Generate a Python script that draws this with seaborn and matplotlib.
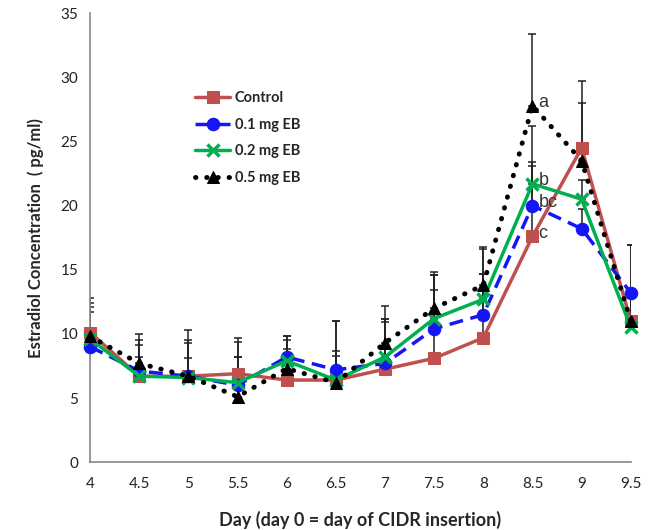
import matplotlib
matplotlib.use("Agg")
import matplotlib.pyplot as plt
import seaborn as sns
import pandas as pd

days = [4, 4.5, 5, 5.5, 6, 6.5, 7, 7.5, 8, 8.5, 9, 9.5]
control = [10.1, 6.7, 6.7, 6.9, 6.4, 6.4, 7.25, 8.1, 9.7, 17.6, 24.5, 11.0]
eb01 = [9.0, 7.1, 6.7, 6.0, 8.2, 7.2, 7.7, 10.4, 11.5, 20.0, 18.2, 13.2]
eb02 = [9.6, 6.7, 6.6, 6.2, 7.9, 6.4, 8.2, 11.2, 12.7, 21.7, 20.5, 10.5]
eb05 = [9.8, 7.7, 6.7, 5.1, 7.3, 6.2, 9.3, 12.0, 13.8, 27.8, 23.5, 11.0]

err_control = [2.3, 1.5, 1.4, 1.3, 2.4, 1.9, 3.65, 5.3, 5.0, 5.5, 5.2, 1.8]
err_eb01 = [2.7, 2.4, 2.6, 3.4, 1.6, 3.8, 3.5, 4.2, 5.1, 3.4, 1.5, 3.7]
err_eb02 = [2.5, 2.4, 2.9, 3.5, 1.6, 2.3, 3.0, 3.4, 2.0, 4.5, 1.5, 3.0]
err_eb05 = [3.0, 2.3, 3.6, 3.1, 2.5, 4.8, 2.9, 2.8, 3.0, 5.6, 4.5, 5.9]

series_names = ["Control", "0.1 mg EB", "0.2 mg EB", "0.5 mg EB"]
letters = ["c", "bc", "b", "a"]

sns.set_style("white")
plt.rcParams["font.family"] = ["Lato", "DejaVu Sans"]

fig, ax = plt.subplots(figsize=(6.53, 5.30), dpi=100)
fig.subplots_adjust(left=0.138, right=0.966, top=0.975, bottom=0.128)

vals = [control, eb01, eb02, eb05]
errs = [err_control, err_eb01, err_eb02, err_eb05]
styles = [
    dict(color="#C0504D", marker="s", linestyle="-", ms=9, lw=2.5, mec="#C0504D"),
    dict(color="#1515F5", marker="o", linestyle=(0, (4, 2.2)), ms=9, lw=2.5, mec="#1515F5"),
    dict(color="#00B050", marker="x", linestyle="-", ms=8, lw=2.5, mec="#00B050", mew=2.5),
    dict(color="black", marker="^", linestyle=(0, (0.1, 2.2)), ms=9, lw=3.5, mec="black", dash_capstyle="round"),
]

# error bars first (upper only)
for v, e in zip(vals, errs):
    ax.errorbar(days, v, yerr=[[0] * len(e), e], fmt="none", ecolor="#222222",
                elinewidth=1.1, capsize=3, capthick=1.1, zorder=1)

for name, v, st in zip(series_names, vals, styles):
    df = pd.DataFrame({"Day": days, "val": v})
    kw = dict(color=st["color"], marker=st["marker"], markersize=st["ms"],
              linewidth=st["lw"], markeredgecolor=st["mec"], label=name, zorder=3)
    if "mew" in st:
        kw["markeredgewidth"] = st["mew"]
    sns.lineplot(data=df, x="Day", y="val", ax=ax, **kw)
    l = ax.lines[-1]
    l.set_linestyle(st["linestyle"])
    l.set_clip_on(False)
    if "dash_capstyle" in st:
        l.set_dash_capstyle("round")

# significance letters at 8.5
idx = days.index(8.5)
for v, let in zip(vals, letters):
    ax.text(days[idx] + 0.06, v[idx] + 0.25, let, fontsize=13, color="#333333",
            family=["Liberation Sans"], va="center", ha="left", zorder=4)

ax.set_xlim(4, 9.5)
ax.set_ylim(0, 35)
ax.set_xticks(days)
ax.set_xticklabels([f"{d:g}" for d in days])
ax.set_yticks(range(0, 36, 5))
ax.tick_params(axis="both", which="both", direction="out", length=5, width=1,
               color="#888888", labelsize=11, labelcolor="#222222")
ax.tick_params(axis="x", pad=6)
for s in ["top", "right"]:
    ax.spines[s].set_visible(False)
for s in ["left", "bottom"]:
    ax.spines[s].set_color("#888888")
    ax.spines[s].set_linewidth(1.2)

ax.set_xlabel("Day (day 0 = day of CIDR insertion)", fontsize=13, fontweight="bold", labelpad=14)
ax.set_ylabel("Estradiol Concentration  ( pg/ml)", fontsize=12, fontweight="bold", labelpad=12)

leg = ax.legend(loc="upper left", bbox_to_anchor=(0.17, 0.855), frameon=False,
                fontsize=10.5, handlelength=2.4, labelspacing=0.85, handletextpad=0.3)
for t in leg.get_texts():
    t.set_fontweight("bold")

fig.savefig("out.png", dpi=100)
